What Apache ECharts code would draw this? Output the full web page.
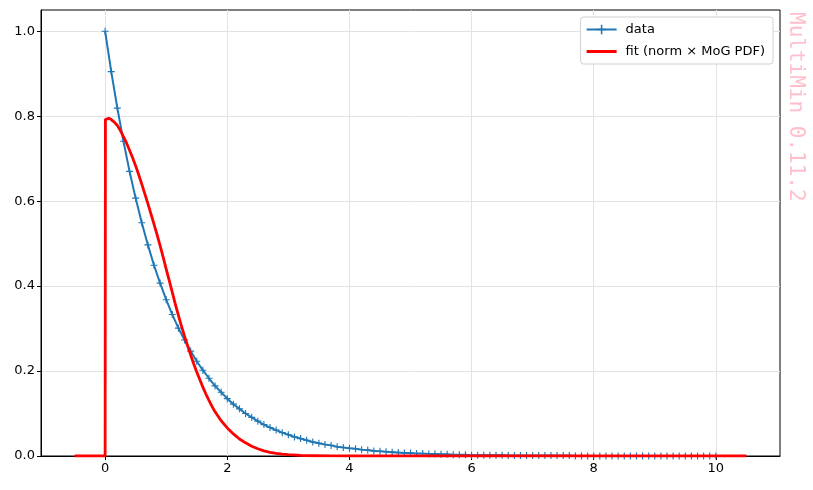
<!DOCTYPE html>
<html>
<head>
<meta charset="utf-8">
<script src="https://cdn.jsdelivr.net/npm/echarts@6/dist/echarts.min.js"></script>
<style>
	html, body {margin: 0; padding: 0; background: #fff;}
	#chart {width: 813px; height: 490px;}
</style>
</head>
<body>
<div id="chart"></div>
<script>
// data points (blue, "+" markers)
var dataX = [0.0, 0.1, 0.2, 0.3, 0.4, 0.5, 0.6, 0.7, 0.8, 0.9,
	1.0, 1.1, 1.2, 1.3, 1.4, 1.5, 1.6, 1.7, 1.8, 1.9,
	2.0, 2.1, 2.2, 2.3, 2.4, 2.5, 2.6, 2.7, 2.8, 2.9,
	3.0, 3.1, 3.2, 3.3, 3.4, 3.5, 3.6, 3.7, 3.8, 3.9,
	4.0, 4.1, 4.2, 4.3, 4.4, 4.5, 4.6, 4.7, 4.8, 4.9,
	5.0, 5.1, 5.2, 5.3, 5.4, 5.5, 5.6, 5.7, 5.8, 5.9,
	6.0, 6.1, 6.2, 6.3, 6.4, 6.5, 6.6, 6.7, 6.8, 6.9,
	7.0, 7.1, 7.2, 7.3, 7.4, 7.5, 7.6, 7.7, 7.8, 7.9,
	8.0, 8.1, 8.2, 8.3, 8.4, 8.5, 8.6, 8.7, 8.8, 8.9,
	9.0, 9.1, 9.2, 9.3, 9.4, 9.5, 9.6, 9.7, 9.8, 9.9, 10.0];
var dataY = [1.000, 0.905, 0.819, 0.741, 0.670, 0.607, 0.549, 0.497, 0.449, 0.407,
	0.368, 0.333, 0.301, 0.273, 0.247, 0.223, 0.202, 0.183, 0.165, 0.150,
	0.135, 0.122, 0.111, 0.100, 0.091, 0.082, 0.074, 0.067, 0.061, 0.055,
	0.050, 0.045, 0.041, 0.037, 0.033, 0.030, 0.027, 0.025, 0.022, 0.020,
	0.018, 0.017, 0.015, 0.014, 0.012, 0.011, 0.010, 0.009, 0.008, 0.007,
	0.007, 0.006, 0.006, 0.005, 0.005, 0.004, 0.004, 0.003, 0.003, 0.003,
	0.002, 0.002, 0.002, 0.002, 0.002, 0.002, 0.001, 0.001, 0.001, 0.001,
	0.001, 0.001, 0.001, 0.001, 0.001, 0.001, 0.001, 0.000, 0.000, 0.000,
	0.000, 0.000, 0.000, 0.000, 0.000, 0.000, 0.000, 0.000, 0.000, 0.000,
	0.000, 0.000, 0.000, 0.000, 0.000, 0.000, 0.000, 0.000, 0.000, 0.000, 0.000];

// fit curve (red)
var fitX = [-0.5, 0.0, 0.005, 0.03, 0.06, 0.1, 0.15, 0.2, 0.25, 0.3, 0.35, 0.4, 0.45, 0.5, 0.55, 0.6, 0.65, 0.7,
	0.75, 0.8, 0.85, 0.9, 0.95, 1.0, 1.05, 1.1, 1.15, 1.2, 1.25, 1.3, 1.35, 1.4, 1.45, 1.5, 1.55, 1.6, 1.65, 1.7,
	1.75, 1.8, 1.9, 2.0, 2.1, 2.2, 2.3, 2.4, 2.5, 2.6, 2.7, 2.8, 2.9,
	3.0, 3.2, 3.4, 3.7, 4.0, 5.0, 10.5];
var fitY = [0.0, 0.0, 0.792, 0.795, 0.795, 0.792, 0.786, 0.778, 0.766, 0.752, 0.737, 0.720, 0.702, 0.683, 0.662, 0.640, 0.617, 0.594,
	0.570, 0.546, 0.521, 0.495, 0.468, 0.440, 0.413, 0.385, 0.357, 0.331, 0.306, 0.282, 0.260, 0.238, 0.217, 0.198, 0.180, 0.162, 0.146, 0.131,
	0.117, 0.104, 0.083, 0.066, 0.052, 0.040, 0.031, 0.023, 0.017, 0.012, 0.0088, 0.0062, 0.0043,
	0.003, 0.0014, 0.0006, 0.0002, 0.0, 0.0, 0.0];

var xTicks = [0, 2, 4, 6, 8, 10];
var yTicks = [0.0, 0.2, 0.4, 0.6, 0.8, 1.0];

var seriesNames = ['data', 'fit (norm × MoG PDF)'];
var watermark = 'MultiMin 0.11.2';

function pairs(xs, ys) {
	var out = [];
	for (var i = 0; i < xs.length; i++) {
		out.push([xs[i], ys[i]]);
	}
	return out;
}

function isTick(list, v) {
	for (var i = 0; i < list.length; i++) {
		if (Math.abs(list[i] - v) < 1e-9) return true;
	}
	return false;
}

var plusPath = 'path://M4.2,0 L5.8,0 L5.8,10 L4.2,10 Z M0,4.2 L10,4.2 L10,5.8 L0,5.8 Z';
var redLegendIcon = 'path://M0,0 L30,0 L30,3 L0,3 Z';
var gridLine = {show: true, lineStyle: {color: '#e3e3e3', width: 1}};
var labelFont = {fontFamily: 'DejaVu Sans', fontSize: 13, color: '#000'};

var myChart = echarts.init(document.getElementById('chart'), null, {renderer: 'canvas'});

var option = {
	animation: false,
	backgroundColor: '#fff',
	grid: {
		left: 41, right: 33, top: 10, bottom: 34,
		show: true, borderColor: '#000', borderWidth: 1, backgroundColor: 'transparent'
	},
	legend: {
		orient: 'vertical',
		right: 40, top: 17,
		padding: [6, 8, 6, 5],
		itemGap: 9,
		itemWidth: 30, itemHeight: 12,
		backgroundColor: '#fff',
		borderColor: '#d0d0d0', borderWidth: 1, borderRadius: 3,
		textStyle: {fontFamily: 'DejaVu Sans', fontSize: 13, color: '#000', padding: [0, 0, 0, 4]},
		data: [
			{name: seriesNames[0]},
			{name: seriesNames[1], icon: redLegendIcon, itemStyle: {color: '#ff0000'}}
		]
	},
	xAxis: {
		type: 'value',
		min: -1.05, max: 11.05,
		interval: 2,
		axisLine: {show: true, onZero: false, lineStyle: {color: '#000', width: 1}},
		axisTick: {show: true, length: 4, lineStyle: {color: '#000'}, customValues: xTicks},
		axisLabel: Object.assign({
			margin: 6,
			customValues: xTicks,
			formatter: function (v) { return isTick(xTicks, v) ? String(v) : ''; }
		}, labelFont),
		splitLine: gridLine
	},
	yAxis: {
		type: 'value',
		min: 0, max: 1.05,
		interval: 0.2,
		axisLine: {show: true, onZero: false, lineStyle: {color: '#000', width: 1}},
		axisTick: {show: true, length: 4, lineStyle: {color: '#000'}, customValues: yTicks},
		axisLabel: Object.assign({
			margin: 6,
			customValues: yTicks,
			formatter: function (v) { return isTick(yTicks, v) ? v.toFixed(1) : ''; }
		}, labelFont),
		splitLine: gridLine
	},
	graphic: [{
		type: 'text',
		x: 806, y: 12,
		rotation: -Math.PI / 2,
		style: {
			text: watermark,
			fill: '#ffc0cb',
			font: '21px "DejaVu Sans Mono"',
			textAlign: 'left',
			textVerticalAlign: 'top'
		},
		z: 10
	}],
	series: [
		{
			name: seriesNames[0],
			type: 'line',
			data: pairs(dataX, dataY),
			color: '#1f77b4',
			lineStyle: {color: '#1f77b4', width: 2},
			symbol: plusPath,
			symbolSize: 7,
			showSymbol: true,
			itemStyle: {color: '#1f77b4'},
			z: 2
		},
		{
			name: seriesNames[1],
			type: 'line',
			data: pairs(fitX, fitY),
			color: '#ff0000',
			lineStyle: {color: '#ff0000', width: 2.8, join: 'round'},
			symbol: 'none',
			showSymbol: false,
			z: 3
		}
	]
};
myChart.setOption(option);
</script>
</body>
</html>
